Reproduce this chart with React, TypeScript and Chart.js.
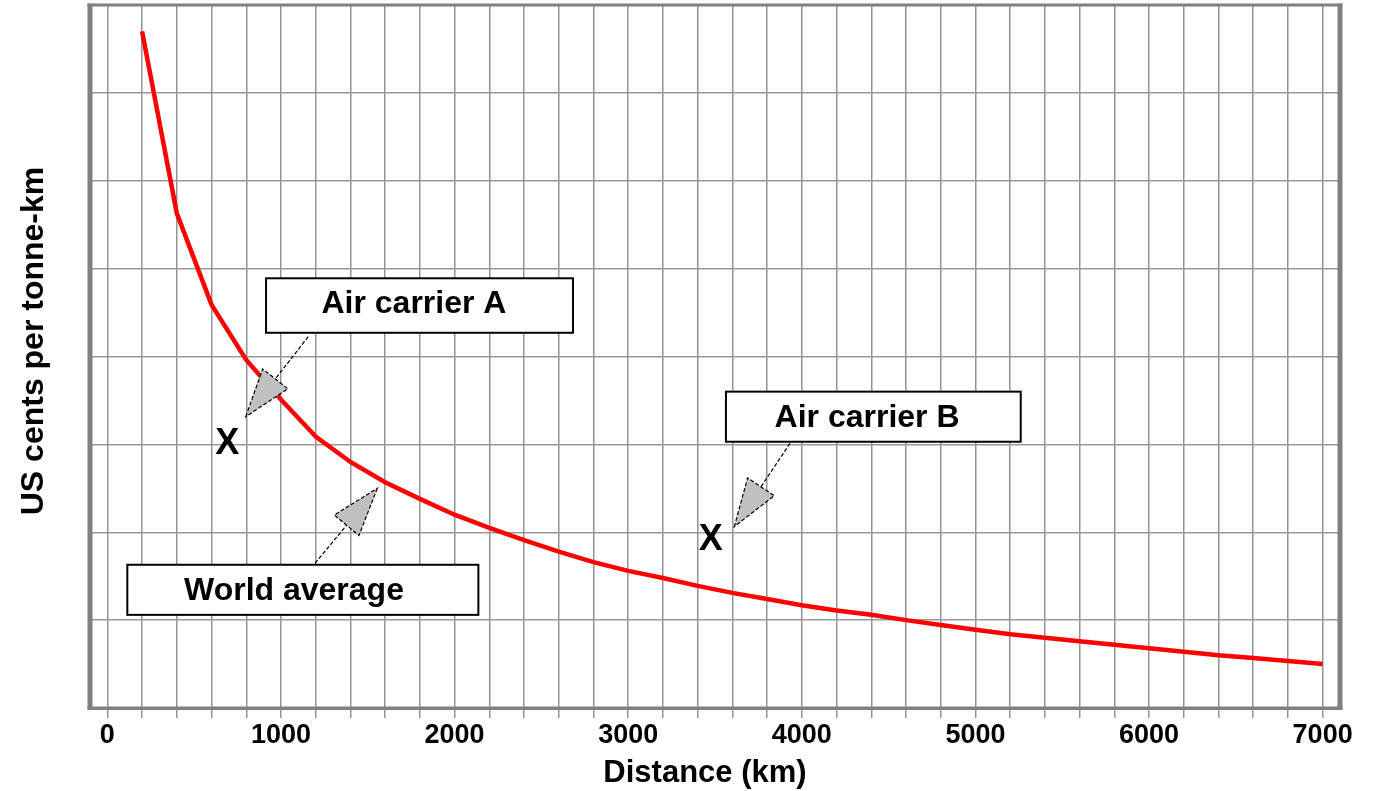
import React, { useEffect, useRef } from 'react';
import { Chart, registerables } from 'chart.js';

Chart.register(...registerables);

// ---- Data ----
const distancesKm = [
  200, 400, 600, 800, 1000, 1200, 1400, 1600, 1800, 2000, 2200, 2400,
  2600, 2800, 3000, 3200, 3400, 3600, 3800, 4000, 4200, 4400, 4600, 4800,
  5000, 5200, 5400, 5600, 5800, 6000, 6200, 6400, 6600, 6800, 7000,
];
const worldAverageCents = [
  7.7, 5.63, 4.59, 3.96, 3.51, 3.09, 2.8, 2.57, 2.38, 2.2, 2.05, 1.91,
  1.78, 1.66, 1.56, 1.48, 1.39, 1.31, 1.24, 1.17, 1.11, 1.06, 1.0, 0.945,
  0.89, 0.84, 0.8, 0.76, 0.72, 0.68, 0.64, 0.6, 0.57, 0.535, 0.5,
];

const xTickValues = [
  0, 200, 400, 600, 800, 1000, 1200, 1400, 1600, 1800, 2000, 2200, 2400,
  2600, 2800, 3000, 3200, 3400, 3600, 3800, 4000, 4200, 4400, 4600, 4800,
  5000, 5200, 5400, 5600, 5800, 6000, 6200, 6400, 6600, 6800, 7000,
];
const xLabelValues = [0, 1000, 2000, 3000, 4000, 5000, 6000, 7000];
const xMin = -100;
const xMax = 7100;
const yMin = 0;
const yMax = 8;

const xTitle = 'Distance (km)';
const yTitle = 'US cents per tonne-km';

// Callouts (in data units)
const calloutTexts = ['Air carrier A', 'Air carrier B', 'World average'];
const calloutBoxLeft = [914, 3563, 115];
const calloutBoxRight = [2682, 5261, 2137];
const calloutBoxTop = [4.89, 3.6, 1.63];
const calloutBoxBottom = [4.27, 3.03, 1.06];
const calloutTextX = [1766, 4376, 1075];
const calloutTextBaseline = [4.495, 3.201, 1.229];
const arrowTailX = [1157, 3932, 1196];
const arrowTailY = [4.225, 3.012, 1.647];
const arrowTipX = [797, 3611, 1555];
const arrowTipY = [3.315, 2.063, 2.5];

const carrierMarkText = 'X';
const carrierMarkX = [690, 3475];
const carrierMarkY = [3.0, 1.91];

const FONT = "'Liberation Sans', Arial, sans-serif";

const overlayPlugin = {
  id: 'overlay',
  beforeDatasetsDraw(chart: any) {
    const { ctx, chartArea } = chart;
    const { left, right, top, bottom } = chartArea;
    ctx.save();
    ctx.fillStyle = '#808080';
    // left & right thick borders
    ctx.fillRect(left - 2.5, top - 1.5, 5, bottom - top + 3);
    ctx.fillRect(right - 2.5, top - 1.5, 5, bottom - top + 3);
    // top & bottom borders
    ctx.fillRect(left - 2.5, top - 1.5, right - left + 5, 3);
    ctx.fillRect(left - 2.5, bottom - 1.5, right - left + 5, 3.5);
    ctx.restore();
  },
  afterDatasetsDraw(chart: any) {
    const { ctx } = chart;
    const xs = chart.scales.x;
    const ys = chart.scales.y;
    ctx.save();

    // Arrows
    for (let i = 0; i < calloutTexts.length; i++) {
      const sx = xs.getPixelForValue(arrowTailX[i]);
      const sy = ys.getPixelForValue(arrowTailY[i]);
      const tx = xs.getPixelForValue(arrowTipX[i]);
      const ty = ys.getPixelForValue(arrowTipY[i]);
      const len = Math.hypot(tx - sx, ty - sy);
      const dx = (tx - sx) / len;
      const dy = (ty - sy) / len;
      const headLen = 48;
      const halfW = 16;
      const bx = tx - dx * headLen;
      const by = ty - dy * headLen;
      const nx = -dy;
      const ny = dx;
      ctx.setLineDash([4, 2]);
      ctx.lineWidth = 1.2;
      ctx.strokeStyle = '#000';
      ctx.beginPath();
      ctx.moveTo(sx, sy);
      ctx.lineTo(bx, by);
      ctx.stroke();
      ctx.beginPath();
      ctx.moveTo(tx, ty);
      ctx.lineTo(bx + nx * halfW, by + ny * halfW);
      ctx.lineTo(bx - nx * halfW, by - ny * halfW);
      ctx.closePath();
      ctx.fillStyle = '#c0c0c0';
      ctx.fill();
      ctx.stroke();
    }
    ctx.setLineDash([]);

    // Boxes
    for (let i = 0; i < calloutTexts.length; i++) {
      const l = xs.getPixelForValue(calloutBoxLeft[i]);
      const r = xs.getPixelForValue(calloutBoxRight[i]);
      const t = ys.getPixelForValue(calloutBoxTop[i]);
      const b = ys.getPixelForValue(calloutBoxBottom[i]);
      ctx.fillStyle = '#fff';
      ctx.fillRect(l, t, r - l, b - t);
      ctx.lineWidth = 2;
      ctx.strokeStyle = '#000';
      ctx.strokeRect(l, t, r - l, b - t);
      ctx.fillStyle = '#000';
      ctx.font = `bold 32px ${FONT}`;
      ctx.textAlign = 'center';
      ctx.textBaseline = 'alphabetic';
      ctx.fillText(
        calloutTexts[i],
        xs.getPixelForValue(calloutTextX[i]),
        ys.getPixelForValue(calloutTextBaseline[i])
      );
    }

    // X markers
    ctx.font = `bold 36px ${FONT}`;
    ctx.textAlign = 'center';
    ctx.textBaseline = 'middle';
    ctx.fillStyle = '#000';
    for (let i = 0; i < carrierMarkX.length; i++) {
      ctx.fillText(
        carrierMarkText,
        xs.getPixelForValue(carrierMarkX[i]),
        ys.getPixelForValue(carrierMarkY[i])
      );
    }
    ctx.restore();
  },
  afterDraw(chart: any) {
    const { ctx } = chart;
    ctx.save();
    ctx.fillStyle = '#000';
    ctx.textAlign = 'center';
    ctx.textBaseline = 'alphabetic';
    ctx.font = `bold 31px ${FONT}`;
    ctx.fillText(xTitle, 705, 782);
    ctx.translate(43, 341);
    ctx.rotate(-Math.PI / 2);
    ctx.font = `bold 32px ${FONT}`;
    ctx.fillText(yTitle, 0, 0);
    ctx.restore();
  },
};

export default function App() {
  const canvasRef = useRef<HTMLCanvasElement | null>(null);

  useEffect(() => {
    const canvas = canvasRef.current;
    if (!canvas) return;
    const chart = new Chart(canvas, {
      type: 'line',
      data: {
        datasets: [
          {
            label: 'World average',
            data: distancesKm.map((d, i) => ({ x: d, y: worldAverageCents[i] })),
            borderColor: '#ff0000',
            borderWidth: 4.5,
            pointRadius: 0,
            tension: 0,
            fill: false,
          },
        ],
      },
      options: {
        animation: false,
        responsive: false,
        devicePixelRatio: 1,
        layout: { padding: { left: 0, right: 42, top: 5, bottom: 0 } },
        plugins: {
          legend: { display: false },
          tooltip: { enabled: false },
        },
        scales: {
          x: {
            type: 'linear',
            min: xMin,
            max: xMax,
            afterBuildTicks: (scale: any) => {
              scale.ticks = xTickValues.map((v) => ({ value: v }));
            },
            afterFit: (scale: any) => {
              scale.height = 83;
            },
            grid: {
              color: '#939393',
              lineWidth: 1.5,
              tickLength: 10,
              drawTicks: true,
            },
            border: { display: false },
            ticks: {
              autoSkip: false,
              maxRotation: 0,
              padding: 1,
              color: '#000',
              font: { family: FONT, size: 27, weight: 'bold' },
              callback: (value: any) =>
                xLabelValues.includes(Number(value)) ? String(value) : '',
            },
          },
          y: {
            type: 'linear',
            min: yMin,
            max: yMax,
            afterFit: (scale: any) => {
              scale.width = 90;
            },
            grid: {
              color: '#9a9a9a',
              lineWidth: 1.5,
              drawTicks: false,
              tickLength: 0,
            },
            border: { display: false },
            ticks: { display: false, stepSize: 1 },
          },
        },
      },
      plugins: [overlayPlugin],
    } as any);
    return () => chart.destroy();
  }, []);

  return (
    <div style={{ position: 'absolute', left: 0, top: 0, width: 1382, height: 791, background: '#fff' }}>
      <canvas ref={canvasRef} width={1382} height={791} style={{ display: 'block' }} />
    </div>
  );
}
